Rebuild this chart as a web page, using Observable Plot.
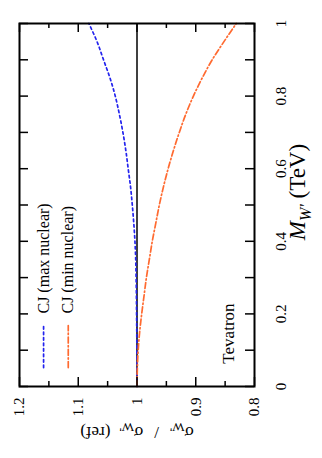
<!DOCTYPE html>
<html><head><meta charset="utf-8">
<script src="https://cdn.jsdelivr.net/npm/d3@7"></script>
<script src="https://cdn.jsdelivr.net/npm/@observablehq/plot@0.6"></script>
<style>
body{margin:0;background:#fff;}
#chart{position:absolute;left:0;top:0;}
</style>
</head><body><div id="chart"></div>
<script>
// ---- data ----
const massTeV = [0,0.05,0.1,0.15,0.2,0.25,0.3,0.35,0.4,0.45,0.5,0.55,0.6,0.65,0.7,0.75,0.8,0.85,0.9,0.95,1];
const ratioMaxNuclear = [1.000,1.000,1.0002,1.0004,1.0007,1.001,1.0015,1.0022,1.0035,1.0055,1.008,1.011,1.015,1.019,1.024,1.030,1.037,1.046,1.057,1.068,1.082];
const ratioMinNuclear = [1.000,0.9994,0.998,0.9955,0.992,0.988,0.984,0.979,0.974,0.968,0.962,0.955,0.947,0.938,0.928,0.917,0.904,0.889,0.872,0.852,0.831];
const seriesNames = ["CJ (max nuclear)", "CJ (min nuclear)"];
const seriesColors = ["#2323ee", "#ff6a30"];
const seriesDash = ["2.5,3", "6,2.5,1.3,2.5"];
const ratioTicks = [1.2, 1.1, 1.0, 0.9, 0.8];
const ratioTickLabels = ["1.2", "1.1", "1", "0.9", "0.8"];
const ratioMinorTicks = [1.15, 1.05, 0.95, 0.85];
const massTicks = [0, 0.2, 0.4, 0.6, 0.8, 1];
const massTickLabels = ["0", "0.2", "0.4", "0.6", "0.8", "1"];
const massMinorTicks = [0.1, 0.3, 0.5, 0.7, 0.9];
const referenceRatio = [1];
const legendRatio = [1.159, 1.117];
const legendMassRange = [0.052, 0.168];
const legendTextMass = 0.201;
const noteText = ["Tevatron"];
const noteRatio = 0.844;
const noteMass = 0.063;
const xLabelPlain = "σW'/σW'(ref)";
const yLabelPlain = "MW' (TeV)";

// ---- layout ----
const W = 322, H = 458, mL = 19, mR = 68, mT = 23, mB = 72;
const pw = W - mL - mR, ph = H - mT - mB;

const curves = [ratioMaxNuclear, ratioMinNuclear].map(arr => massTeV.map((m, i) => ({m, r: arr[i]})));
const legendLines = legendRatio.map(r => legendMassRange.map(m => ({m, r})));

const plot = Plot.plot({
  width: W, height: H,
  marginLeft: mL, marginRight: mR, marginTop: mT, marginBottom: mB,
  x: {domain: [1.2, 0.8], axis: null},
  y: {domain: [0, 1], axis: null},
  style: {fontFamily: "'Liberation Serif', 'Times New Roman', serif", background: "white", color: "black"},
  marks: [
    Plot.ruleX(referenceRatio, {x: d => d, stroke: "black", strokeWidth: 1.5}),
    ...curves.map((c, i) => Plot.line(c, {x: "r", y: "m", curve: "monotone-y", stroke: seriesColors[i], strokeWidth: 1.7, strokeDasharray: seriesDash[i]})),
    ...legendLines.map((c, i) => Plot.line(c, {x: "r", y: "m", stroke: seriesColors[i], strokeWidth: 1.7, strokeDasharray: seriesDash[i]})),
    // inward ticks
    Plot.tickX(ratioTicks, {x: d => d, insetTop: ph - 9, stroke: "black", strokeWidth: 1.5}),
    Plot.tickX(ratioTicks, {x: d => d, insetBottom: ph - 9, stroke: "black", strokeWidth: 1.5}),
    Plot.tickX(ratioMinorTicks, {x: d => d, insetTop: ph - 5, stroke: "black", strokeWidth: 1.5}),
    Plot.tickX(ratioMinorTicks, {x: d => d, insetBottom: ph - 5, stroke: "black", strokeWidth: 1.5}),
    Plot.tickY(massTicks.concat(massMinorTicks), {y: d => d, insetLeft: pw - 9, stroke: "black", strokeWidth: 1.5}),
    Plot.tickY(massTicks.concat(massMinorTicks), {y: d => d, insetRight: pw - 9, stroke: "black", strokeWidth: 1.5}),
    Plot.frame({stroke: "black", strokeWidth: 2}),
    // tick labels
    Plot.text(ratioTicks, {x: d => d, text: (d, i) => ratioTickLabels[i], frameAnchor: "bottom", dy: 11, rotate: -90, textAnchor: "end", lineAnchor: "middle", fontSize: 15}),
    Plot.text(massTicks, {y: d => d, text: (d, i) => massTickLabels[i], frameAnchor: "right", dx: 27, rotate: -90, textAnchor: "middle", lineAnchor: "middle", fontSize: 15}),
    // axis titles
    Plot.text([xLabelPlain], {frameAnchor: "bottom", dy: 46, rotate: 180, textAnchor: "middle", lineAnchor: "middle", fontSize: 17}),
    Plot.text([yLabelPlain], {frameAnchor: "right", dx: 43, dy: -13, rotate: -90, textAnchor: "middle", lineAnchor: "middle", fontSize: 23}),
    // legend text
    Plot.text(seriesNames, {x: (d, i) => legendRatio[i], y: legendTextMass, text: d => d, rotate: -90, textAnchor: "start", lineAnchor: "middle", fontSize: 16}),
    // annotation
    Plot.text(noteText, {x: noteRatio, y: noteMass, text: d => d, rotate: -90, textAnchor: "start", lineAnchor: "middle", fontSize: 17})
  ]
});

function rich(svg, plain, parts, subSize, shift) {
  d3.select(svg).selectAll("text").filter(function () { return this.textContent === plain; }).each(function () {
    const t = d3.select(this);
    t.text(null);
    let cur = 0;
    for (const p of parts) {
      const target = p.sub ? shift : 0;
      const ts = t.append("tspan").text(p.t);
      if (p.sub) ts.attr("font-size", subSize);
      if (p.italic) ts.attr("font-style", "italic");
      let dy = target - cur;
      if (dy !== 0) { ts.attr("dy", dy); cur = target; }
      if (p.dx) ts.attr("dx", p.dx);
    }
  });
}
rich(plot, xLabelPlain, [
  {t: "σ"}, {t: "W'", sub: true}, {t: "/", dx: 11}, {t: "σ", dx: 11}, {t: "W'", sub: true}, {t: "(ref)", dx: 9}
], 13, 4);
rich(plot, yLabelPlain, [
  {t: "M", italic: true}, {t: "W'", sub: true, italic: true}, {t: " (TeV)"}
], 16, 6);

document.getElementById("chart").appendChild(plot);
</script>
</body></html>
